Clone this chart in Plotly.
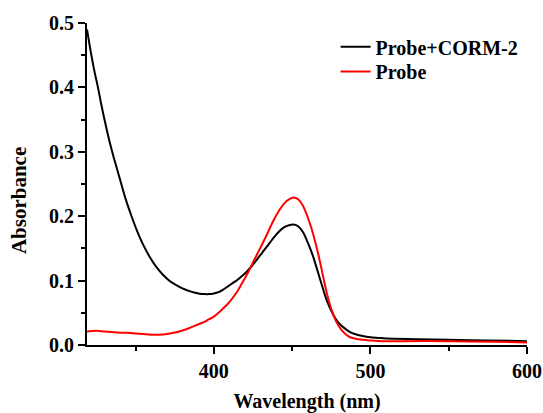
import plotly.graph_objects as go

wl_black = [319, 320.5, 322, 324, 326, 328, 330, 332.5, 335, 337.5, 340, 343.5, 347, 351, 355, 359, 363, 367.5, 372,
            376, 380, 384, 388, 391, 394, 397, 400, 403, 406, 409, 412, 415, 418, 421.5, 425, 429.5,
            434, 438, 442, 445, 448, 451, 454, 457, 460, 462, 464, 466, 468, 470, 472, 475, 478, 481, 484,
            487, 490, 495, 500, 505, 510, 530, 550, 575, 600]
abs_black = [0.49, 0.468, 0.447, 0.422, 0.400, 0.375, 0.352, 0.325, 0.301, 0.279, 0.258, 0.228, 0.203,
             0.177, 0.155, 0.137, 0.122, 0.109, 0.099, 0.093, 0.088, 0.084, 0.081, 0.0795, 0.079,
             0.079, 0.080, 0.082, 0.086, 0.091, 0.096, 0.101, 0.107, 0.115, 0.125, 0.139,
             0.153, 0.166, 0.177, 0.183, 0.186, 0.187, 0.184, 0.175, 0.159, 0.147, 0.133, 0.117,
             0.101, 0.085, 0.070, 0.053, 0.040, 0.031, 0.025, 0.020, 0.017, 0.014, 0.012, 0.011,
             0.010, 0.009, 0.008, 0.007, 0.006]

wl_red = [319, 325, 330, 335, 340, 345, 350, 355, 360, 365, 370, 374, 378, 382, 385, 388, 391, 394, 397,
          400, 403, 406, 409, 412, 415, 418, 421.5, 425, 429.5, 434, 438, 442, 445, 448, 451, 454, 457,
          460, 462, 464, 466, 468, 470, 472, 475, 478, 481, 484, 487, 490, 495, 500, 510, 520, 550, 580, 600]
abs_red = [0.021, 0.022, 0.021, 0.020, 0.019, 0.019, 0.018, 0.017, 0.016, 0.016, 0.017, 0.019, 0.021,
           0.024, 0.027, 0.030, 0.033, 0.036, 0.040, 0.044, 0.050, 0.057, 0.064, 0.073, 0.083,
           0.096, 0.111, 0.128, 0.150, 0.172, 0.193, 0.210, 0.220, 0.226, 0.229, 0.226, 0.216,
           0.198, 0.184, 0.167, 0.148, 0.127, 0.104, 0.082, 0.056, 0.037, 0.025, 0.017, 0.012,
           0.010, 0.008, 0.007, 0.006, 0.006, 0.006, 0.005, 0.004]

x_ticks = [400, 500, 600]
x_minor = [350, 450, 550]
y_ticks = [0, 0.1, 0.2, 0.3, 0.4, 0.5]
y_minor = [0.05, 0.15, 0.25, 0.35, 0.45]

FONT = "Liberation Serif"

fig = go.Figure()
fig.add_trace(go.Scatter(x=wl_black, y=abs_black, mode="lines", name="<b>Probe+CORM-2</b>",
                         line=dict(color="black", width=2, shape="spline", smoothing=0.8),
                         legend="legend"))
fig.add_trace(go.Scatter(x=wl_red, y=abs_red, mode="lines", name="<b>Probe</b>",
                         line=dict(color="#ff0000", width=2, shape="spline", smoothing=0.8),
                         legend="legend2"))

leg_common = dict(xanchor="left", yanchor="middle", bgcolor="rgba(0,0,0,0)",
                  font=dict(family=FONT, size=20, color="black"))

fig.update_layout(
    width=543, height=413,
    margin=dict(l=87, r=16, t=23, b=68),
    paper_bgcolor="white", plot_bgcolor="white",
    font=dict(family=FONT, size=20, color="black"),
    showlegend=True,
    legend=dict(x=0.565, y=0.926, **leg_common),
    legend2=dict(x=0.565, y=0.849, **leg_common),
    annotations=[dict(text="<b>Absorbance</b>", textangle=-90, xref="paper", yref="paper",
                      x=-0.1545, y=0.447, xanchor="center", yanchor="middle", showarrow=False,
                      font=dict(family=FONT, size=21, color="black"))],
)
fig.update_xaxes(
    range=[319, 600], showgrid=False, zeroline=False, automargin=False,
    showline=True, linecolor="black", linewidth=2,
    ticks="outside", ticklen=7, tickwidth=2, tickcolor="black",
    tickvals=x_ticks, ticktext=["<b>%d</b>" % v for v in x_ticks],
    minor=dict(tickvals=x_minor, ticks="outside", ticklen=4, tickwidth=2, tickcolor="black"),
    title=dict(text="<b>Wavelength (nm)</b>", font=dict(size=20), standoff=14),
)
fig.update_yaxes(
    range=[0, 0.5], showgrid=False, zeroline=False, automargin=False,
    showline=True, linecolor="black", linewidth=2,
    ticks="outside", ticklen=7, tickwidth=2, tickcolor="black",
    tickvals=y_ticks, ticktext=["<b>%.1f</b>" % v for v in y_ticks],
    minor=dict(tickvals=y_minor, ticks="outside", ticklen=4, tickwidth=2, tickcolor="black"),
)

fig.write_html("out.html", config={"displayModeBar": False},
               post_script="document.body.style.margin='0px';document.body.style.overflow='hidden';")
